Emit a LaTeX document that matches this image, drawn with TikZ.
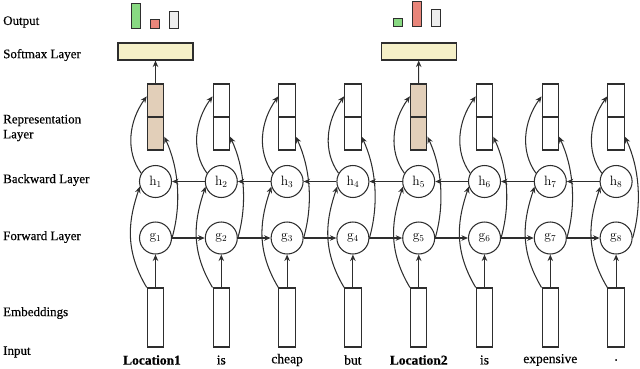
\documentclass[tikz,border=0pt]{standalone}
\usepackage{fontspec}
\newfontfamily\lab[FakeBold=0.35]{Liberation Serif}
\usetikzlibrary{arrows.meta}
\definecolor{linec}{HTML}{2E2E2E}
\definecolor{repfill}{HTML}{E2CFB9}
\definecolor{softfill}{HTML}{F5F0C8}
\definecolor{bargreen}{HTML}{88D982}
\definecolor{barred}{HTML}{E8857A}
\definecolor{bargray}{HTML}{EEEEEE}
\begin{document}
\begin{tikzpicture}[x=1pt,y=-1pt,
  ln/.style={draw=linec, line width=1.05pt},
  arr/.style={ln,-{Stealth[length=6.5pt,width=5.5pt]}},
  cell/.style={circle, ln, minimum size=32pt, inner sep=0pt, font=\fontsize{13.5}{15}\selectfont, fill=white},
  repbox/.style={rectangle, ln, minimum width=16.5pt, minimum height=66pt, inner sep=0pt},
  embbox/.style={rectangle, ln, minimum width=16.5pt, minimum height=59pt, inner sep=0pt},
  softbox/.style={rectangle, ln, fill=softfill, minimum width=75pt, minimum height=17pt, inner sep=0pt},
  bar/.style={rectangle, ln, line width=0.8pt, minimum width=9pt, inner sep=0pt, anchor=south},
  layerlab/.style={anchor=west, font=\lab\fontsize{13}{15}\selectfont, align=left, inner sep=0pt},
  wordlab/.style={font=\lab\fontsize{13.5}{15}\selectfont, inner sep=0pt}
]
\useasboundingbox (0,0) rectangle (640,368);

% left labels
\node[layerlab] (lout) at (3,22) {Output};
\node[layerlab] (lsoft) at (3,55) {Softmax Layer};
\node[layerlab] (lrep) at (3,128) {Representation\\Layer};
\node[layerlab] (lback) at (3,180) {Backward Layer};
\node[layerlab] (lfor) at (3,237) {Forward Layer};
\node[layerlab] (lemb) at (3,313) {Embeddings};
\node[layerlab] (lin) at (3,352) {Input};

% columns
\foreach \i in {1,...,8} {
  \pgfmathsetmacro\xx{155.5+65.8*(\i-1)}
  \ifnum\i=1 \def\rf{repfill}\else\ifnum\i=5 \def\rf{repfill}\else\def\rf{white}\fi\fi
  \node[repbox, fill=\rf] (r\i) at (\xx,117) {};
  \draw[ln] (r\i.west) -- (r\i.east);
  \node[cell] (h\i) at (\xx,181.5) {$\mathrm{h}_{\i}$};
  \node[cell] (g\i) at (\xx,238) {$\mathrm{g}_{\i}$};
  \node[embbox] (e\i) at (\xx,317.5) {};
}

% words
\node[wordlab] (w1) at (152,360) {\bfseries Location1};
\node[wordlab] (w2) at (e2 |- 0,360) {is};
\node[wordlab] (w3) at (e3 |- 0,360) {cheap};
\node[wordlab] (w4) at (e4 |- 0,360) {but};
\node[wordlab] (w5) at (e5 |- 0,360) {\bfseries Location2};
\node[wordlab] (w6) at (e6 |- 0,360) {is};
\node[wordlab] (w7) at (e7 |- 0,360) {expensive};
\node[wordlab] (w8) at (e8 |- 0,360) {.};

% softmax + outputs
\node[softbox] (s1) at (155.5,51.5) {};
\node[softbox] (s5) at (418.7,51.5) {};
\draw[arr] (r1.north) -- (s1.south);
\draw[arr] (r5.north) -- (s5.south);

\node[bar, fill=bargreen, minimum height=24.5pt] (o1a) at (135.5,28.5) {};
\node[bar, fill=barred, minimum height=8.5pt] (o1b) at (154.5,28.5) {};
\node[bar, fill=bargray, minimum height=16.5pt] (o1c) at (174,28.5) {};
\node[bar, fill=bargreen, minimum height=8.5pt] (o5a) at (397.5,27) {};
\node[bar, fill=barred, minimum height=25pt] (o5b) at (416.5,27) {};
\node[bar, fill=bargray, minimum height=17pt] (o5c) at (435.8,27) {};

% connectors
\foreach \i in {1,...,8} {
  \draw[arr] (e\i.north) -- (g\i.south);
  \draw[arr] (e\i.north west) .. controls +(-24,-40) and +(-10,30) .. (h\i.198);
  \draw[arr] (g\i.east) .. controls +(10,-35) and +(14,30) .. (r\i.-66);
  \draw[arr] (h\i.150) .. controls +(-16,-22) and +(-18,25) .. (r\i.113);
}
\foreach \i [evaluate=\i as \j using int(\i+1)] in {1,...,7} {
  \draw[arr] (g\i.east) -- (g\j.west);
  \draw[arr] (h\j.west) -- (h\i.east);
}
\end{tikzpicture}
\end{document}
